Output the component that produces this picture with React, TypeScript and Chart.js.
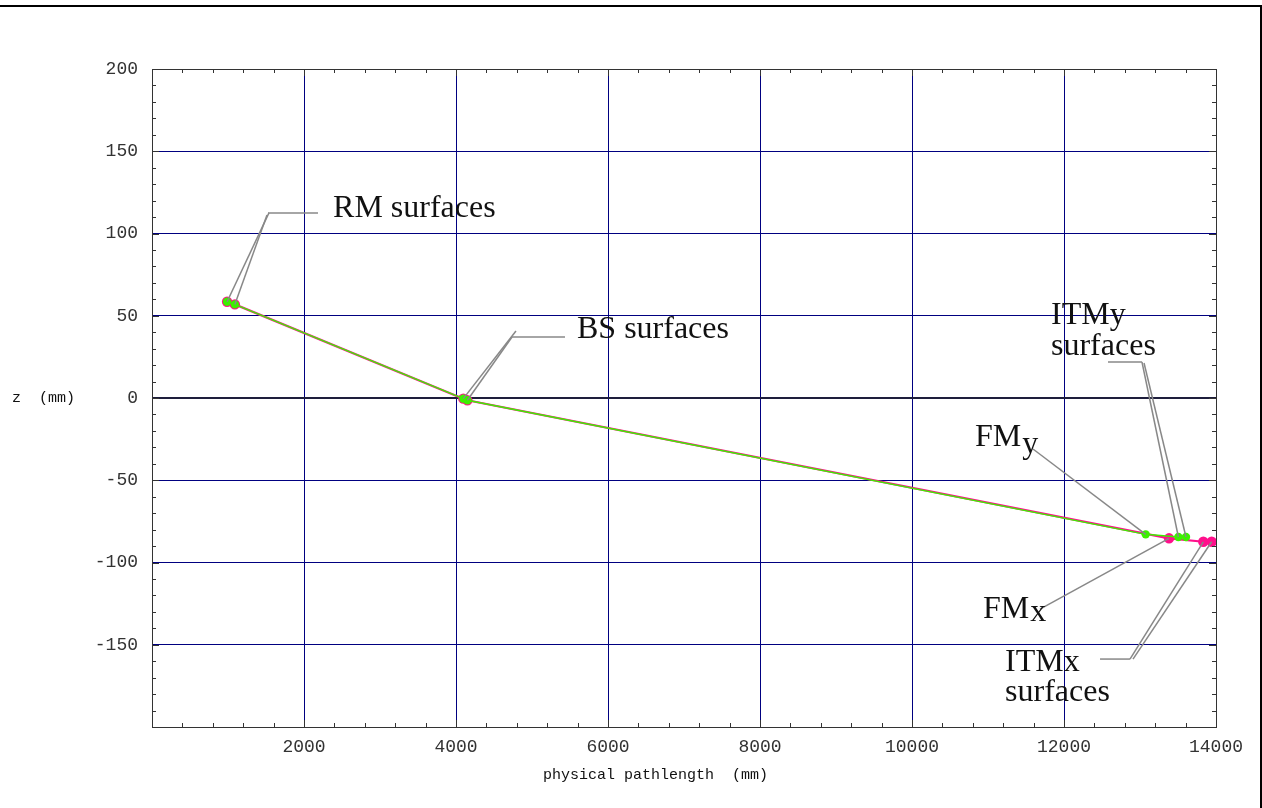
import React, { useEffect, useRef } from 'react';
import { Chart, registerables } from 'chart.js';

Chart.register(...registerables);

// ---- data (physical pathlength in mm, z in mm) ----
const commonX = [988, 1090, 4096, 4150];
const commonZ = [58.5, 56.9, -0.4, -1.4];
const yBranchX = [13075, 13505, 13605];
const yBranchZ = [-82.9, -84.5, -84.5];
const xBranchX = [13382, 13833, 13943];
const xBranchZ = [-85.3, -87.4, -87.4];

const xTicks = [0, 2000, 4000, 6000, 8000, 10000, 12000, 14000];
const yTicks = [-200, -150, -100, -50, 0, 50, 100, 150, 200];

// annotation texts (data coordinates of the baseline start)
const noteText = ['RM surfaces', 'BS surfaces', 'ITMy', 'surfaces', 'FM', 'FM', 'ITMx', 'surfaces'];
const noteSub = ['', '', '', '', 'y', 'x', '', ''];
const noteSubDy = [0, 0, 0, 0, 7, 3, 0, 0];
const noteX = [2382, 5592, 11829, 11829, 10829, 10934, 11224, 11224];
const noteZ = [110, 36.5, 45, 26.1, -29.2, -133.7, -166, -184.2];

// leader line segments: [x1, z1, x2, z2]
const leaders: number[][] = [
  [1526, 112.5, 2184, 112.5],
  [1539, 112.5, commonX[0], commonZ[0]],
  [1513, 111.2, commonX[1], commonZ[1]],
  [4737, 37.1, 5434, 37.1],
  [4789, 40.7, commonX[2], commonZ[2]],
  [4737, 37.1, commonX[3], commonZ[3]],
  [12579, 21.9, 13026, 21.9],
  [13026, 21.9, yBranchX[1], yBranchZ[1]],
  [13053, 21.3, yBranchX[2], yBranchZ[2]],
  [11592, -31.0, yBranchX[0], yBranchZ[0]],
  [11684, -128.3, xBranchX[0], xBranchZ[0]],
  [12474, -158.7, 12868, -158.7],
  [12868, -158.7, xBranchX[1], xBranchZ[1]],
  [12908, -158.7, xBranchX[2], xBranchZ[2]],
];

const GREEN = '#3cf000';
const PINK = '#ff108c';

const pts = (xs: number[], zs: number[]) => xs.map((x, i) => ({ x, y: zs[i] }));

const framePlugin = {
  id: 'framePlugin',
  beforeDraw(chart: any) {
    const ctx = chart.ctx;
    ctx.save();
    ctx.fillStyle = '#ffffff';
    ctx.fillRect(0, 0, chart.width, chart.height);
    ctx.restore();
  },
  afterDatasetsDraw(chart: any) {
    const ctx = chart.ctx;
    const xs = chart.scales.x;
    const ys = chart.scales.y;
    ctx.save();
    // leaders
    ctx.strokeStyle = '#888888';
    ctx.lineWidth = 1.5;
    leaders.forEach((s) => {
      ctx.beginPath();
      ctx.moveTo(xs.getPixelForValue(s[0]), ys.getPixelForValue(s[1]));
      ctx.lineTo(xs.getPixelForValue(s[2]), ys.getPixelForValue(s[3]));
      ctx.stroke();
    });
    // texts
    ctx.fillStyle = '#111111';
    ctx.font = '32px "Liberation Serif", "Times New Roman", serif';
    ctx.textBaseline = 'alphabetic';
    ctx.textAlign = 'left';
    noteText.forEach((t, i) => {
      const px = xs.getPixelForValue(noteX[i]);
      const py = ys.getPixelForValue(noteZ[i]);
      ctx.fillText(t, px, py);
      if (noteSub[i]) {
        const w = ctx.measureText(t).width;
        ctx.fillText(noteSub[i], px + w + 1, py + noteSubDy[i]);
      }
    });
    ctx.restore();
  },
  afterDraw(chart: any) {
    const ctx = chart.ctx;
    const a = chart.chartArea;
    const xs = chart.scales.x;
    const ys = chart.scales.y;
    ctx.save();
    // plot frame
    ctx.strokeStyle = '#333333';
    ctx.lineWidth = 1;
    ctx.strokeRect(a.left + 0.5, a.top + 0.5, a.right - a.left, a.bottom - a.top);
    // ticks
    ctx.beginPath();
    for (let v = 0; v <= 14000; v += 400) {
      const p = Math.round(xs.getPixelForValue(v)) + 0.5;
      const len = v % 2000 === 0 ? 7 : 4;
      ctx.moveTo(p, a.bottom);
      ctx.lineTo(p, a.bottom - len);
      ctx.moveTo(p, a.top);
      ctx.lineTo(p, a.top + len);
    }
    for (let v = -200; v <= 200; v += 10) {
      const p = Math.round(ys.getPixelForValue(v)) + 0.5;
      const len = v % 50 === 0 ? 7 : 4;
      ctx.moveTo(a.left, p);
      ctx.lineTo(a.left + len, p);
      ctx.moveTo(a.right, p);
      ctx.lineTo(a.right - len, p);
    }
    ctx.stroke();
    // axis titles
    ctx.fillStyle = '#111111';
    ctx.font = '15px "Liberation Mono", "Courier New", monospace';
    ctx.textBaseline = 'middle';
    ctx.textAlign = 'left';
    ctx.fillText('z  (mm)', 12, ys.getPixelForValue(0));
    ctx.fillText('physical pathlength  (mm)', 543, 775);
    // outer frame
    ctx.fillStyle = '#000000';
    ctx.fillRect(0, 5, chart.width, 2);
    ctx.fillRect(chart.width - 2, 5, 2, chart.height - 5);
    ctx.restore();
  },
};

export default function App() {
  const ref = useRef<HTMLCanvasElement>(null);

  useEffect(() => {
    if (!ref.current) return;
    const chart = new Chart(ref.current, {
      type: 'line',
      data: {
        datasets: [
          {
            label: 'y path',
            data: pts([...commonX, ...yBranchX], [...commonZ, ...yBranchZ]),
            borderColor: GREEN,
            backgroundColor: GREEN,
            pointBackgroundColor: GREEN,
            pointBorderWidth: 0,
            borderWidth: 1.5,
            pointRadius: 4.2,
            tension: 0,
          },
          {
            label: 'x path',
            data: pts([...commonX, ...xBranchX], [...commonZ, ...xBranchZ]),
            borderColor: PINK,
            backgroundColor: PINK,
            pointBackgroundColor: PINK,
            pointBorderWidth: 0,
            borderWidth: 2.2,
            pointRadius: 5.2,
            tension: 0,
          },
        ],
      },
      options: {
        responsive: false,
        animation: false,
        devicePixelRatio: 1,
        layout: { padding: { top: 69, right: 46, left: 0, bottom: 0 } },
        plugins: { legend: { display: false }, tooltip: { enabled: false } },
        scales: {
          x: {
            type: 'linear',
            min: 0,
            max: 14000,
            afterFit: (s: any) => { s.height = 81; },
            afterBuildTicks: (s: any) => { s.ticks = xTicks.map((v) => ({ value: v })); },
            ticks: {
              padding: 9,
              color: '#333333',
              font: { family: '"Liberation Mono", "Courier New", monospace', size: 18 },
              callback: (v: any) => (v === 0 ? '' : String(v)),
              maxRotation: 0,
            },
            grid: {
              drawTicks: false,
              color: (c: any) => (c.tick && (c.tick.value === 0 || c.tick.value === 14000) ? 'rgba(0,0,0,0)' : '#000080'),
              lineWidth: 1,
            },
            border: { display: false },
          },
          y: {
            type: 'linear',
            min: -200,
            max: 200,
            afterFit: (s: any) => { s.width = 152; },
            afterBuildTicks: (s: any) => { s.ticks = yTicks.map((v) => ({ value: v })); },
            ticks: {
              padding: 14,
              color: '#333333',
              font: { family: '"Liberation Mono", "Courier New", monospace', size: 18 },
              callback: (v: any) => (v === -200 ? '' : String(v)),
            },
            grid: {
              drawTicks: false,
              color: (c: any) => {
                const v = c.tick && c.tick.value;
                if (v === -200 || v === 200) return 'rgba(0,0,0,0)';
                if (v === 0) return '#1e1e3c';
                return '#000080';
              },
              lineWidth: (c: any) => (c.tick && c.tick.value === 0 ? 2 : 1),
            },
            border: { display: false },
          },
        },
      },
      plugins: [framePlugin],
    } as any);
    return () => chart.destroy();
  }, []);

  return (
    <div style={{ position: 'fixed', left: 0, top: 0, width: 1262, height: 808, background: '#fff' }}>
      <canvas ref={ref} width={1262} height={808} style={{ display: 'block', width: 1262, height: 808 }} />
    </div>
  );
}
